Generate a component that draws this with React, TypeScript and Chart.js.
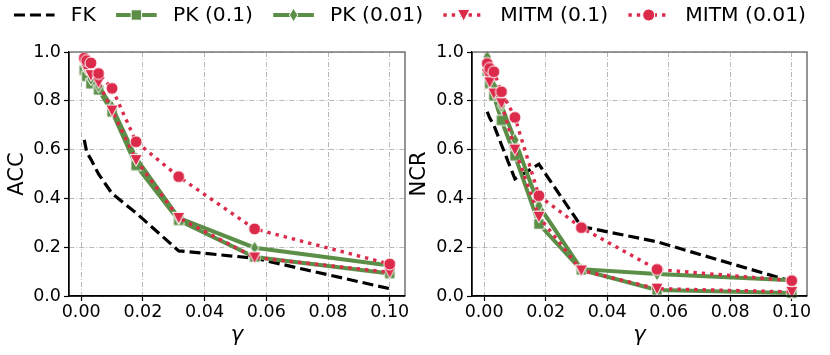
import React, { useEffect, useRef } from 'react';
import { Chart, registerables } from 'chart.js';
Chart.register(...registerables);

// ---------------- data ----------------
const gammas = [0.001, 0.00178, 0.00316, 0.00562, 0.01, 0.0178, 0.0316, 0.0562, 0.1];
const seriesNames = ['FK', 'PK (0.1)', 'PK (0.01)', 'MITM (0.1)', 'MITM (0.01)'];

const accFK = [0.64, 0.59, 0.56, 0.5, 0.42, 0.34, 0.185, 0.155, 0.03];
const accPK1 = [0.925, 0.9, 0.87, 0.845, 0.755, 0.535, 0.31, 0.16, 0.092];
const accPK01 = [0.95, 0.93, 0.89, 0.86, 0.775, 0.565, 0.32, 0.198, 0.125];
const accMITM1 = [0.95, 0.93, 0.905, 0.875, 0.76, 0.557, 0.32, 0.158, 0.097];
const accMITM01 = [0.975, 0.965, 0.955, 0.912, 0.851, 0.632, 0.489, 0.275, 0.131];

const ncrFK = [0.755, 0.73, 0.7, 0.62, 0.48, 0.54, 0.285, 0.222, 0.06];
const ncrPK1 = [0.92, 0.87, 0.82, 0.72, 0.575, 0.295, 0.107, 0.025, 0.012];
const ncrPK01 = [0.98, 0.9, 0.86, 0.78, 0.64, 0.37, 0.11, 0.09, 0.065];
const ncrMITM1 = [0.91, 0.876, 0.83, 0.79, 0.6, 0.325, 0.105, 0.03, 0.017];
const ncrMITM01 = [0.953, 0.933, 0.919, 0.837, 0.732, 0.411, 0.28, 0.109, 0.063];

const xTicks = [0, 0.02, 0.04, 0.06, 0.08, 0.1];
const yTicks = [0, 0.2, 0.4, 0.6, 0.8, 1.0];
const yTitles = ['ACC', 'NCR'];
const xTitle = 'γ';

// ---------------- styles ----------------
const GREEN = '#5b8e46';
const RED = '#dc2a4a';
const FONT = 'DejaVu Sans';

type Style = { color: string; width: number; dash: number[]; marker: string | null };
const styles: Style[] = [
  { color: '#000000', width: 3.2, dash: [11, 5], marker: null },
  { color: GREEN, width: 4, dash: [], marker: 'square' },
  { color: GREEN, width: 4, dash: [], marker: 'thin_diamond' },
  { color: RED, width: 3.4, dash: [3.4, 5], marker: 'tri_down' },
  { color: RED, width: 3.4, dash: [3.4, 5], marker: 'circle' },
];

function drawMarker(ctx: CanvasRenderingContext2D, kind: string, cx: number, cy: number, color: string) {
  ctx.save();
  ctx.setLineDash([]);
  ctx.fillStyle = color;
  ctx.strokeStyle = '#ffffff';
  ctx.lineWidth = 1;
  ctx.beginPath();
  if (kind === 'square') {
    const h = 5.2;
    ctx.rect(cx - h, cy - h, 2 * h, 2 * h);
  } else if (kind === 'thin_diamond') {
    ctx.moveTo(cx, cy - 6.8);
    ctx.lineTo(cx + 4.2, cy);
    ctx.lineTo(cx, cy + 6.8);
    ctx.lineTo(cx - 4.2, cy);
    ctx.closePath();
  } else if (kind === 'tri_down') {
    ctx.moveTo(cx - 6.2, cy - 5.6);
    ctx.lineTo(cx + 6.2, cy - 5.6);
    ctx.lineTo(cx, cy + 6.2);
    ctx.closePath();
  } else if (kind === 'circle') {
    ctx.arc(cx, cy, 6, 0, Math.PI * 2);
  }
  ctx.fill();
  ctx.stroke();
  ctx.restore();
}

function markerCanvas(kind: string, color: string) {
  const c = document.createElement('canvas');
  c.width = 18;
  c.height = 18;
  const ctx = c.getContext('2d')!;
  drawMarker(ctx, kind, 9, 9, color);
  return c;
}

const spinesPlugin = {
  id: 'spines',
  afterDatasetsDraw(chart: any) {
    const { ctx, chartArea: a } = chart;
    ctx.save();
    ctx.strokeStyle = '#7a7a7a';
    ctx.lineWidth = 1.6;
    ctx.beginPath();
    ctx.moveTo(a.left, a.top);
    ctx.lineTo(a.right, a.top);
    ctx.lineTo(a.right, a.bottom);
    ctx.stroke();
    ctx.strokeStyle = '#000';
    ctx.lineWidth = 1.3;
    ctx.beginPath();
    ctx.moveTo(a.left, a.top);
    ctx.lineTo(a.left, a.bottom);
    ctx.lineTo(a.right, a.bottom);
    ctx.stroke();
    ctx.restore();
  },
};

const legendPlugin = {
  id: 'customLegend',
  afterDraw(chart: any) {
    const ctx: CanvasRenderingContext2D = chart.ctx;
    const fs = 20.3;
    ctx.save();
    ctx.font = `${fs}px "${FONT}"`;
    const handle = 2 * fs;
    const pad = 0.8 * fs;
    const col = 1.0 * fs;
    const widths = seriesNames.map((n) => ctx.measureText(n).width);
    const total = widths.reduce((s, w) => s + w, 0) + seriesNames.length * (handle + pad) + (seriesNames.length - 1) * col;
    let x = 410 - total / 2;
    const y = 15;
    seriesNames.forEach((name, i) => {
      const st = styles[i];
      ctx.save();
      ctx.strokeStyle = st.color;
      ctx.lineWidth = st.width;
      ctx.setLineDash(st.dash);
      ctx.beginPath();
      ctx.moveTo(x, y);
      ctx.lineTo(x + handle, y);
      ctx.stroke();
      ctx.restore();
      if (st.marker) drawMarker(ctx, st.marker, x + handle / 2, y, st.color);
      ctx.fillStyle = '#000';
      ctx.textBaseline = 'middle';
      ctx.textAlign = 'left';
      ctx.fillText(name, x + handle + pad, y + 1);
      x += handle + pad + widths[i] + col;
    });
    ctx.restore();
  },
};

function buildDatasets(series: number[][]) {
  return series.map((vals, i) => {
    const st = styles[i];
    return {
      label: seriesNames[i],
      data: gammas.map((g, j) => ({ x: g, y: vals[j] })),
      borderColor: st.color,
      backgroundColor: st.color,
      borderWidth: st.width,
      borderDash: st.dash,
      borderCapStyle: 'butt',
      tension: 0,
      pointStyle: st.marker ? markerCanvas(st.marker, st.color) : false,
      pointRadius: st.marker ? 6 : 0,
      pointHoverRadius: st.marker ? 6 : 0,
      clip: false,
      order: series.length - i,
    };
  });
}

function buildOptions(yTitle: string, yWidth: number, yTitlePad: number, padRight: number) {
  const tickFont = { family: FONT, size: 17.5 };
  return {
    animation: false,
    responsive: false,
    maintainAspectRatio: false,
    devicePixelRatio: 1,
    events: [],
    layout: { padding: { top: 52, left: 0, right: padRight, bottom: 0 } },
    plugins: { legend: { display: false }, tooltip: { enabled: false }, title: { display: false } },
    scales: {
      x: {
        type: 'linear',
        min: -0.00395,
        max: 0.10495,
        afterBuildTicks: (s: any) => {
          s.ticks = xTicks.map((v) => ({ value: v }));
        },
        afterFit: (s: any) => {
          s.height = 59;
        },
        ticks: {
          callback: (v: any) => Number(v).toFixed(2),
          font: tickFont,
          color: '#000',
          padding: 1,
          maxRotation: 0,
          autoSkip: false,
        },
        grid: { color: '#b8b8b8', lineWidth: 1, tickLength: 5, tickColor: '#000', tickWidth: 1.2, tickBorderDash: [] },
        border: { display: true, color: '#000', width: 1.3, dash: [5, 2, 1, 2] },
        title: {
          display: true,
          text: xTitle,
          font: { family: FONT, size: 21, style: 'italic' },
          color: '#000',
          padding: { top: 0, bottom: 7 },
        },
      },
      y: {
        type: 'linear',
        min: 0,
        max: 1,
        afterBuildTicks: (s: any) => {
          s.ticks = yTicks.map((v) => ({ value: v }));
        },
        afterFit: (s: any) => {
          s.width = yWidth;
        },
        ticks: {
          callback: (v: any) => Number(v).toFixed(1),
          font: tickFont,
          color: '#000',
          padding: 3,
          autoSkip: false,
        },
        grid: { color: '#b8b8b8', lineWidth: 1, tickLength: 5, tickColor: '#000', tickWidth: 1.2, tickBorderDash: [] },
        border: { display: true, color: '#000', width: 1.3, dash: [5, 2, 1, 2] },
        title: {
          display: true,
          text: yTitle,
          font: { family: FONT, size: 21 },
          color: '#000',
          padding: { top: yTitlePad, bottom: 0 },
        },
      },
    },
  };
}

export default function App() {
  const ref1 = useRef<HTMLCanvasElement>(null);
  const ref2 = useRef<HTMLCanvasElement>(null);

  useEffect(() => {
    Chart.defaults.font.family = FONT;
    const c1 = new Chart(ref1.current!, {
      type: 'line',
      data: { datasets: buildDatasets([accFK, accPK1, accPK01, accMITM1, accMITM01]) as any },
      options: buildOptions(yTitles[0], 69, 5, 425) as any,
      plugins: [spinesPlugin, legendPlugin],
    });
    const c2 = new Chart(ref2.current!, {
      type: 'line',
      data: { datasets: buildDatasets([ncrFK, ncrPK1, ncrPK01, ncrMITM1, ncrMITM01]) as any },
      options: buildOptions(yTitles[1], 72, 7, 23) as any,
      plugins: [spinesPlugin],
    });
    return () => {
      c1.destroy();
      c2.destroy();
    };
  }, []);

  return (
    <div style={{ position: 'fixed', left: 0, top: 0, width: 830, height: 355, background: '#fff' }}>
      <canvas ref={ref1} width={830} height={355} style={{ position: 'absolute', left: 0, top: 0, width: 830, height: 355 }} />
      <canvas ref={ref2} width={430} height={355} style={{ position: 'absolute', left: 400, top: 0, width: 430, height: 355 }} />
    </div>
  );
}
